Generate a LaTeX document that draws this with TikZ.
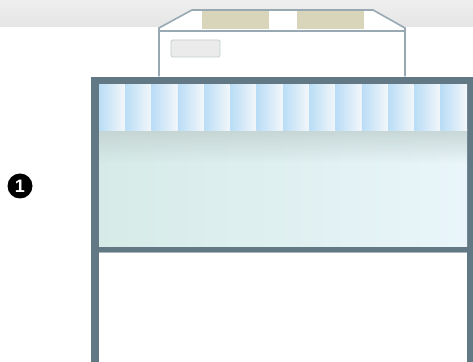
\documentclass[tikz,border=0pt]{standalone}
\usepackage{fontspec}
\setmainfont{Liberation Sans}
\usetikzlibrary{fadings}
\definecolor{band}{HTML}{EFEFEF}
\definecolor{bandlow}{HTML}{E5E5E5}
\definecolor{devline}{HTML}{98A9B3}
\definecolor{beige}{HTML}{D9D5BB}
\definecolor{btnfill}{HTML}{EBEBEB}
\definecolor{btnline}{HTML}{C3CDD1}
\definecolor{frame}{HTML}{637885}
\definecolor{slatblue}{HTML}{BADDF6}
\definecolor{slatwhite}{HTML}{F3F7FA}
\definecolor{glassL}{HTML}{D6EBE8}
\definecolor{glassR}{HTML}{E9F5FA}
\definecolor{glassTop}{HTML}{C2D1D0}
\definecolor{divlite}{HTML}{A9B7BD}
\tikzfading[name=topfade, top color=transparent!15, bottom color=transparent!100]
\tikzset{
  devstroke/.style={draw=devline, line width=1.6pt, line join=miter},
  slat/.style={left color=slatblue, middle color=slatblue!40!slatwhite, right color=slatwhite, draw=none},
  marker/.style={circle, fill=black, minimum size=25pt, inner sep=0pt, text=white,
    font=\fontsize{18}{18}\selectfont\bfseries}
}
\begin{document}
\begin{tikzpicture}[x=1pt,y=1pt]
\useasboundingbox (0,0) rectangle (473,361);
\clip (0,0) rectangle (473,361);
% background
\fill[white] (0,0) rectangle (473,361);
\shade[top color=band, bottom color=bandlow] (0,334) rectangle (473,361);
% frame
\fill[frame] (91,-5) rectangle (480,284);
% upper panel: blinds + glass
\shade[left color=glassL, right color=glassR] (99,114) rectangle (467,231);
\fill[glassTop, path fading=topfade] (99,198) rectangle (467,231);
\foreach \i in {0,...,13} {
  \pgfmathsetmacro{\xa}{99+\i*26.2857}
  \pgfmathsetmacro{\xb}{99+(\i+1)*26.2857}
  \shade[slat] (\xa,230) rectangle (\xb,276);
}
% lower panel
\fill[white] (99,-5) rectangle (467,109);
\draw[divlite, line width=0.8pt] (99,108.6) -- (467,108.6);
% device on top
\fill[white] (159,285) -- (159,333) -- (192,351) -- (373,351) -- (405,333) -- (405,285) -- cycle;
\fill[beige] (202,332) rectangle (269,349.5);
\fill[beige] (297,332) rectangle (364,349.5);
\draw[devstroke] (159,284.5) -- (159,333) -- (192,351) -- (373,351) -- (405,333) -- (405,284.5);
\draw[devstroke] (159,330) -- (405,330);
\node[draw=btnline, fill=btnfill, line width=0.9pt, rounded corners=1.5pt,
  minimum width=49pt, minimum height=17pt, inner sep=0pt] (btn) at (195.5,312.5) {};
% marker
\node[marker] (m1) at (20,175) {1};
\end{tikzpicture}
\end{document}
